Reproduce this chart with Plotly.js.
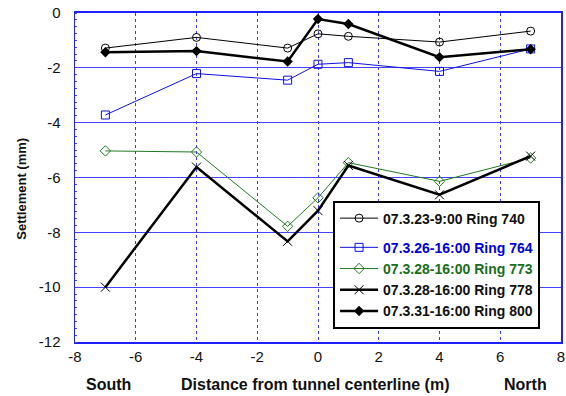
<!DOCTYPE html>
<html><head><meta charset="utf-8">
<script src="https://cdn.plot.ly/plotly-3.0.1.min.js"></script>
<style>body{margin:0;padding:0;background:#fff}#chart{width:566px;height:396px}</style>
</head><body><div id="chart"></div>
<script>
const xPos = [-7, -4, -1, 0, 1, 4, 7];
const ring740 = [-1.28, -0.89, -1.28, -0.76, -0.85, -1.06, -0.66];
const ring764 = [-3.72, -2.21, -2.45, -1.87, -1.81, -2.13, -1.31];
const ring773 = [-5.03, -5.07, -7.78, -6.74, -5.46, -6.14, -5.29];
const ring778 = [-10.0, -5.62, -8.33, -7.21, -5.56, -6.63, -5.22];
const ring800 = [-1.43, -1.39, -1.77, -0.22, -0.40, -1.61, -1.32];
const names = ['07.3.23-9:00 Ring 740','07.3.26-16:00 Ring 764','07.3.28-16:00 Ring 773','07.3.28-16:00 Ring 778','07.3.31-16:00 Ring 800'];
const xTicks = [-8,-6,-4,-2,0,2,4,6,8];
const yTicks = [-12,-10,-8,-6,-4,-2,0];

const traces = [
 {x:xPos,y:ring740,name:'<b>'+names[0]+'</b>',legendgroup:'a',mode:'lines+markers',
  line:{color:'#000',width:1},marker:{symbol:'circle-open',size:8,color:'#000',line:{width:1}}},
 {x:xPos,y:ring764,name:'<b><span style="color:#0000e0">'+names[1]+'</span></b>',legendgroup:'b',mode:'lines+markers',
  line:{color:'#1010e0',width:1},marker:{symbol:'square-open',size:8,color:'#1010e0',line:{width:1}}},
 {x:xPos,y:ring773,name:'<b><span style="color:#1a6e1a">'+names[2]+'</span></b>',legendgroup:'b',mode:'lines+markers',
  line:{color:'#237a23',width:1},marker:{symbol:'diamond-open',size:8,color:'#237a23',line:{width:1}}},
 {x:xPos,y:ring778,name:'<b>'+names[3]+'</b>',legendgroup:'b',mode:'lines+markers',
  line:{color:'#000',width:2.5},marker:{symbol:'x-thin-open',size:9,color:'#000',line:{width:1}}},
 {x:xPos,y:ring800,name:'<b>'+names[4]+'</b>',legendgroup:'b',mode:'lines+markers',
  line:{color:'#000',width:2.5},marker:{symbol:'diamond',size:8,color:'#000'}}
];

const layout = {
 width:566,height:396,
 margin:{l:75,r:5,t:13,b:54},
 paper_bgcolor:'#fff',plot_bgcolor:'#fff',
 font:{family:'Liberation Sans, Arial, sans-serif',size:15,color:'#111'},
 showlegend:true,
 legend:{x:0.531,y:0.43,xanchor:'left',yanchor:'top',bgcolor:'#fff',bordercolor:'#000',borderwidth:2,
   font:{size:14,color:'#111'},tracegroupgap:8,traceorder:'grouped',itemwidth:38},
 xaxis:{range:[-8,8],tickvals:xTicks,ticktext:xTicks.map(String),showgrid:true,gridcolor:'#3a3aff',griddash:'dot',gridwidth:1,
   zeroline:false,showline:true,linecolor:'#2020ff',linewidth:2,mirror:true,ticks:'',fixedrange:true,
   tickfont:{size:15}},
 yaxis:{range:[-12,0],tickvals:yTicks,ticktext:yTicks.map(String),showgrid:true,gridcolor:'#4444ff',gridwidth:1.3,
   zeroline:false,showline:true,linecolor:'#2020ff',linewidth:1.5,mirror:true,ticks:'',ticklabelstandoff:10,fixedrange:true,
   tickfont:{size:15},
   minor:{ticks:'inside',dtick:0.25,ticklen:2,tickcolor:'#4444ff',tickwidth:1,showgrid:false}},
 annotations:[
  {text:'<b>South</b>',xref:'paper',yref:'paper',x:0.068,y:-0.128,showarrow:false,xanchor:'center',yanchor:'middle',font:{size:16,color:'#111'}},
  {text:'<b>Distance from tunnel centerline (m)</b>',xref:'paper',yref:'paper',x:0.494,y:-0.128,showarrow:false,xanchor:'center',yanchor:'middle',font:{size:16,color:'#111'}},
  {text:'<b>North</b>',xref:'paper',yref:'paper',x:0.926,y:-0.128,showarrow:false,xanchor:'center',yanchor:'middle',font:{size:16,color:'#111'}},
  {text:'<b>Settlement (mm)</b>',xref:'paper',yref:'paper',x:-0.109,y:0.466,showarrow:false,textangle:-90,xanchor:'center',yanchor:'middle',font:{size:13,color:'#111'}}
 ]
};
Plotly.newPlot('chart',traces,layout,{displayModeBar:false,staticPlot:true});
</script></body></html>
